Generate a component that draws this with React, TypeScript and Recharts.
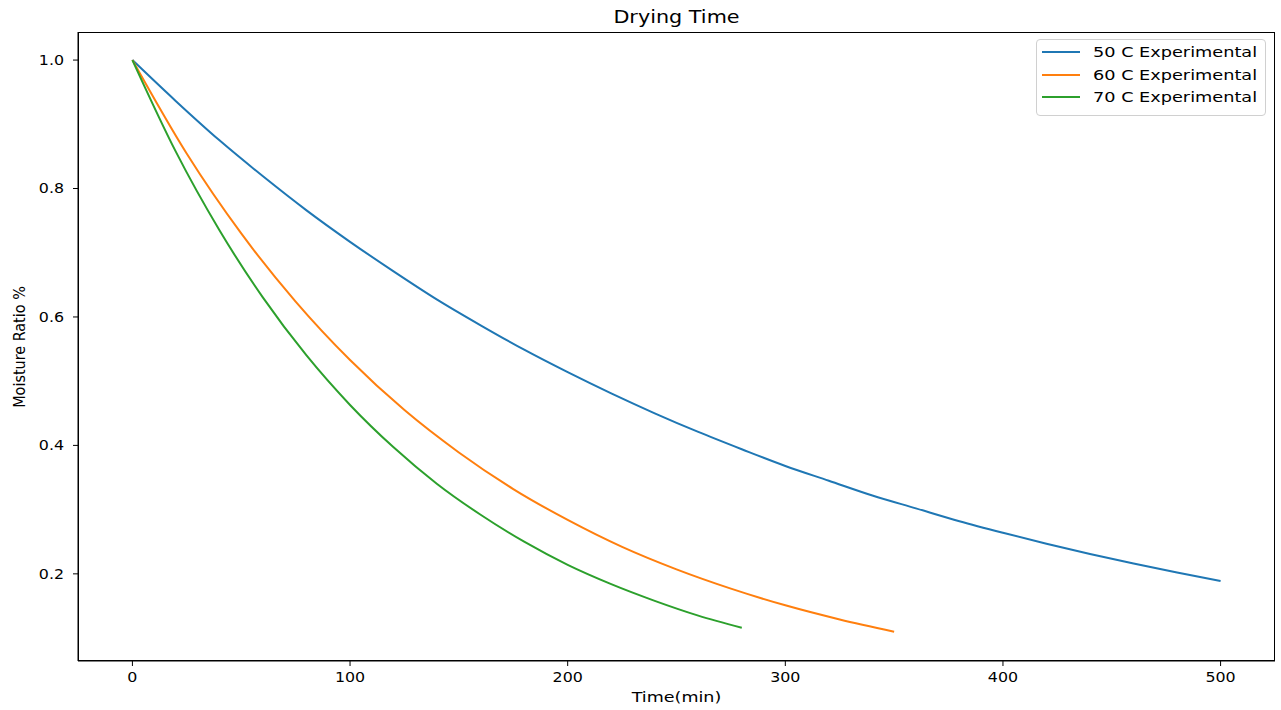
import React from "react";
import { LineChart, Line, XAxis, YAxis, Legend } from "recharts";

// values
const time50 = [0, 20, 40, 60, 80, 100, 120, 140, 160, 180, 200, 220, 240, 260, 280, 300, 320, 340, 360, 380, 400, 420, 440, 460, 480, 500];
const ratio50 = [1.0, 0.936, 0.875, 0.819, 0.766, 0.717, 0.671, 0.627, 0.587, 0.549, 0.514, 0.481, 0.45, 0.421, 0.394, 0.368, 0.345, 0.322, 0.302, 0.282, 0.264, 0.247, 0.231, 0.216, 0.202, 0.189];

const time60 = [0, 25, 50, 75, 100, 125, 150, 175, 200, 225, 250, 275, 300, 325, 350];
const ratio60 = [1.0, 0.854, 0.73, 0.624, 0.533, 0.455, 0.389, 0.332, 0.284, 0.242, 0.207, 0.177, 0.151, 0.129, 0.11];

const time70 = [0, 20, 40, 60, 80, 100, 120, 140, 160, 180, 200, 220, 240, 260, 280];
const ratio70 = [1.0, 0.857, 0.735, 0.63, 0.54, 0.463, 0.397, 0.34, 0.292, 0.25, 0.214, 0.184, 0.158, 0.135, 0.116];

const xTicks = [0, 100, 200, 300, 400, 500];
const yTicks = [0.2, 0.4, 0.6, 0.8, 1.0];

const seriesNames = ["50 C Experimental", "60 C Experimental", "70 C Experimental"];
const colors = ["#1f77b4", "#ff7f0e", "#2ca02c"];

const toRows = (xs: number[], ys: number[]) => xs.map((t, i) => ({ t, v: ys[i] }));

const FONT = "'DejaVu Sans', sans-serif";
const SX = 1.2; // the reference text is a bit wider than it is tall

function StretchTick(props: any) {
  const { x, y, payload, textAnchor, vertical } = props;
  const label = vertical ? Number(payload.value).toFixed(1) : String(payload.value);
  return (
    <text
      x={x}
      y={y}
      dy={vertical ? "0.36em" : "0.85em"}
      textAnchor={textAnchor}
      fontFamily={FONT}
      fontSize={13.2}
      fill="#000"
      transform={`translate(${x},${y}) scale(${SX},1) translate(${-x},${-y})`}
    >
      {label}
    </text>
  );
}

function LegendBox() {
  return (
    <div
      style={{
        boxSizing: "border-box",
        width: 230,
        height: 77,
        border: "1px solid #d0d0d0",
        borderRadius: 4,
        background: "rgba(255,255,255,0.8)",
        padding: "1px 0 0 5px",
        fontFamily: FONT,
        fontSize: 14.5,
        color: "#000",
      }}
    >
      {seriesNames.map((n, i) => (
        <div key={n} style={{ display: "flex", alignItems: "center", height: 22.6, whiteSpace: "nowrap" }}>
          <span style={{ display: "inline-block", width: 38, height: 2, background: colors[i], marginRight: 13 }} />
          <span style={{ display: "inline-block", transform: "scaleX(1.22)", transformOrigin: "left center" }}>{n}</span>
        </div>
      ))}
    </div>
  );
}

export default function App() {
  const sets = [toRows(time50, ratio50), toRows(time60, ratio60), toRows(time70, ratio70)];
  return (
    <div style={{ position: "absolute", left: 0, top: 0, width: 1281, height: 710, background: "#fff" }}>
      <div
        style={{
          position: "absolute",
          left: 78,
          width: 1197,
          top: 7,
          textAlign: "center",
          fontFamily: FONT,
          fontSize: 17,
          transform: "scaleX(1.22)",
        }}
      >
        Drying Time
      </div>
      <div
        style={{
          position: "absolute",
          left: 78,
          width: 1197,
          top: 689,
          textAlign: "center",
          fontFamily: FONT,
          fontSize: 13.8,
          transform: "scaleX(1.27)",
        }}
      >
        Time(min)
      </div>
      <div
        style={{
          position: "absolute",
          left: 19,
          top: 347,
          transform: "translate(-50%, -50%) rotate(-90deg)",
          whiteSpace: "nowrap",
          fontFamily: "'DejaVu Sans Condensed', 'Liberation Sans Narrow', 'DejaVu Sans', sans-serif",
          fontStretch: "condensed",
          fontSize: 16,
        }}
      >
        Moisture Ratio %
      </div>
      <LineChart width={1281} height={710} margin={{ top: 32, right: 6, bottom: 0, left: 0 }}>
        <XAxis
          type="number"
          dataKey="t"
          domain={[-25, 525]}
          ticks={xTicks}
          allowDataOverflow
          height={49}
          tickSize={5}
          tickMargin={5}
          tick={<StretchTick />}
          stroke="#000"
        />
        <YAxis
          type="number"
          dataKey="v"
          domain={[0.0643, 1.0437]}
          ticks={yTicks}
          allowDataOverflow
          width={78}
          tickSize={5}
          tickMargin={9}
          tick={<StretchTick vertical />}
          stroke="#000"
        />
        <Legend
          layout="vertical"
          align="center"
          verticalAlign="middle"
          wrapperStyle={{ top: 39, left: 1036, width: "auto" }}
          content={() => <LegendBox />}
        />
        {sets.map((rows, i) => (
          <Line
            key={seriesNames[i]}
            data={rows}
            dataKey="v"
            name={seriesNames[i]}
            type="monotone"
            stroke={colors[i]}
            strokeWidth={2}
            dot={false}
            isAnimationActive={false}
          />
        ))}
      </LineChart>
      <div
        style={{
          position: "absolute",
          left: 78,
          top: 32,
          width: 1197,
          height: 629,
          boxSizing: "border-box",
          border: "1px solid #000",
          pointerEvents: "none",
        }}
      />
    </div>
  );
}
